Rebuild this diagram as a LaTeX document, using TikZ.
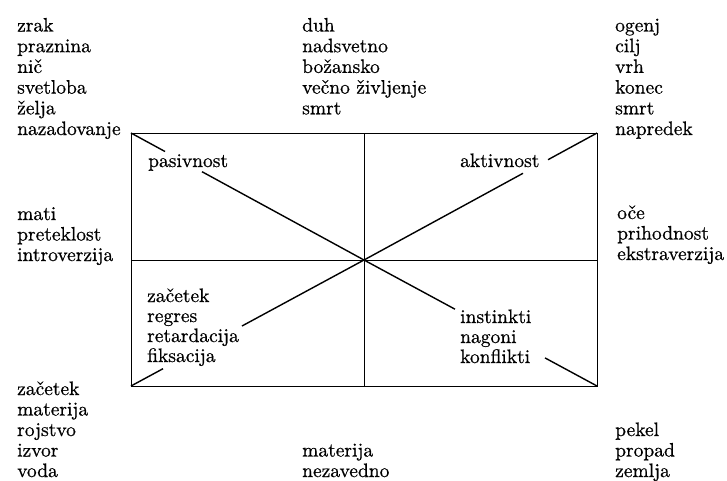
\documentclass[tikz,border=0pt]{standalone}
\usepackage{fontspec}
\setmainfont{lmroman10-regular.otf}[FakeBold=0.6]
\begin{document}
\begin{tikzpicture}[x=1pt,y=-1pt,
  lbl/.style={inner sep=0pt,anchor=base west,font=\fontsize{19.5}{20.5}\selectfont},
  frame/.style={line width=1pt},
  diag/.style={line width=1.4pt}]
\useasboundingbox (0,0) rectangle (727,480);
% frame
\coordinate (TL) at (131,133);
\coordinate (TR) at (597,133);
\coordinate (BL) at (131,386);
\coordinate (BR) at (597,386);
\coordinate (C) at (364,260);
\coordinate (T) at (364,133);
\coordinate (B) at (364,386);
\coordinate (L) at (131,260);
\coordinate (R) at (597,260);
\draw[frame] (TL) rectangle (BR);
\draw[frame] (T) -- (B);
\draw[frame] (L) -- (R);
% diagonal gaps
\coordinate (g1a) at (165,151.5);
\coordinate (g1b) at (202,171.7);
\coordinate (g2a) at (523,173.3);
\coordinate (g2b) at (548,159.7);
\coordinate (g3a) at (163,368.7);
\coordinate (g3b) at (242,326);
\coordinate (g4a) at (455,309.2);
\coordinate (g4b) at (545,357.9);
\draw[diag] (TL) -- (g1a);
\draw[diag] (g1b) -- (C);
\draw[diag] (C) -- (g4a);
\draw[diag] (g4b) -- (BR);
\draw[diag] (BL) -- (g3a);
\draw[diag] (g3b) -- (C);
\draw[diag] (C) -- (g2a);
\draw[diag] (g2b) -- (TR);
% outer texts
\foreach \t [count=\i] in {zrak,praznina,nič,svetloba,želja,nazadovanje}
  \node[lbl] (tl\i) at (17,{31.5+20.7*(\i-1)}) {\t};
\foreach \t [count=\i] in {duh,nadsvetno,božansko,večno življenje,smrt}
  \node[lbl] (tm\i) at (302,{31.5+20.7*(\i-1)}) {\t};
\foreach \t [count=\i] in {ogenj,cilj,vrh,konec,smrt,napredek}
  \node[lbl] (tr\i) at (615,{31.5+20.7*(\i-1)}) {\t};
\foreach \t [count=\i] in {mati,preteklost,introverzija}
  \node[lbl] (ml\i) at (17,{220+20.5*(\i-1)}) {\t};
\foreach \t [count=\i] in {oče,prihodnost,ekstraverzija}
  \node[lbl] (mr\i) at (617,{219+20.5*(\i-1)}) {\t};
\foreach \t [count=\i] in {začetek,materija,rojstvo,izvor,voda}
  \node[lbl] (bl\i) at (17,{395+20.5*(\i-1)}) {\t};
\foreach \t [count=\i] in {materija,nezavedno}
  \node[lbl] (bm\i) at (302,{456.5+20.5*(\i-1)}) {\t};
\foreach \t [count=\i] in {pekel,propad,zemlja}
  \node[lbl] (br\i) at (615,{436+20.5*(\i-1)}) {\t};
% inner texts
\node[lbl] (pas) at (148,167) {pasivnost};
\node[lbl] (akt) at (460,167) {aktivnost};
\foreach \t [count=\i] in {začetek,regres,retardacija,fiksacija}
  \node[lbl] (il\i) at (147,{302+20*(\i-1)}) {\t};
\foreach \t [count=\i] in {instinkti,nagoni,konflikti}
  \node[lbl] (ir\i) at (460,{323+20*(\i-1)}) {\t};
\end{tikzpicture}
\end{document}
